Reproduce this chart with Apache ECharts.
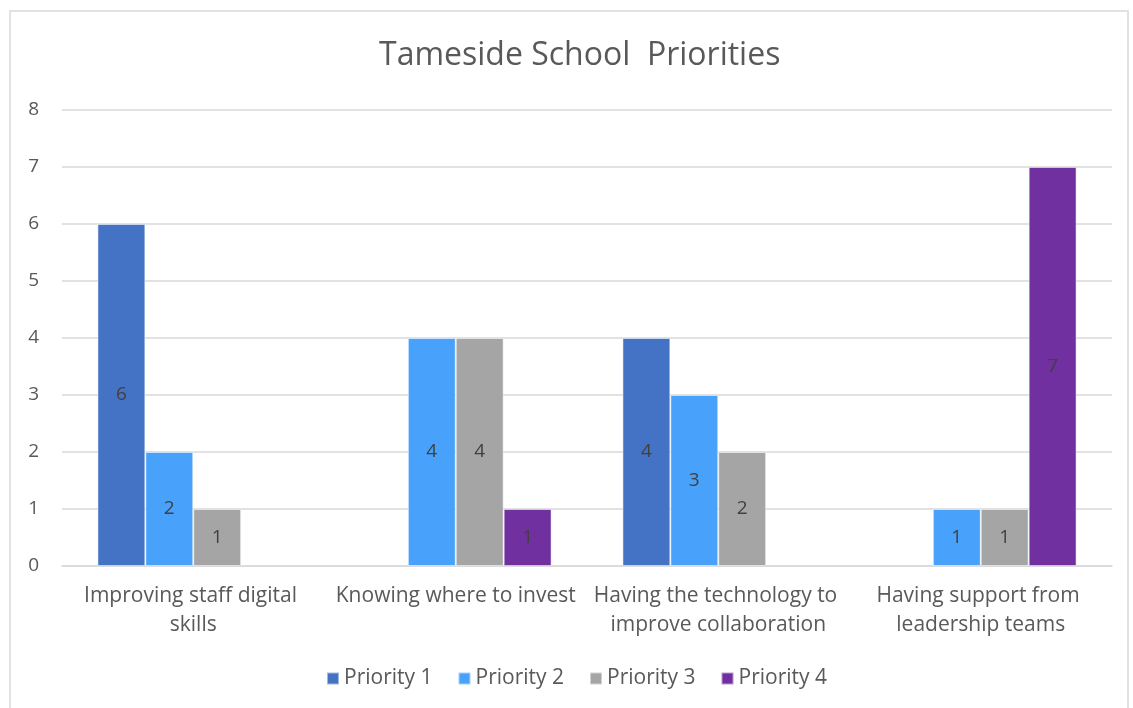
<!DOCTYPE html>
<html>
<head>
<meta charset="utf-8">
<script src="https://cdn.jsdelivr.net/npm/echarts@6/dist/echarts.min.js"></script>
<style>
  html, body { margin: 0; padding: 0; background: #fff; }
  #main { width: 1133px; height: 708px; }
</style>
</head>
<body>
<div id="main"></div>
<script>
  // data
  var categories = ['Improving staff digital skills', 'Knowing where to invest', 'Having the technology to improve collaboration', 'Having support from leadership teams'];
  var priority1 = [6, 0, 4, 0];
  var priority2 = [2, 4, 3, 1];
  var priority3 = [1, 4, 2, 1];
  var priority4 = [0, 1, 0, 7];
  var seriesNames = ['Priority 1', 'Priority 2', 'Priority 3', 'Priority 4'];
  var seriesColors = ['#4472C4', '#48A2FC', '#A5A5A5', '#7030A0'];
  var yTicks = [0, 8, 1]; // min, max, step

  var font = '"Open Sans", Lato, sans-serif';
  var allData = [priority1, priority2, priority3, priority4];

  var series = allData.map(function (d, i) {
    return {
      name: seriesNames[i],
      type: 'bar',
      // no outline on empty bars
      data: d.map(function (v) {
        return v === 0 ? { value: v, itemStyle: { borderWidth: 0 } } : v;
      }),
      barGap: '0%',
      barCategoryGap: '27%',
      itemStyle: { color: seriesColors[i], borderColor: 'rgba(255,255,255,0.5)', borderWidth: 1 },
      label: {
        show: true,
        position: 'inside',
        color: '#404040',
        fontSize: 19,
        fontFamily: font,
        formatter: function (p) { return p.value === 0 ? '' : p.value; }
      }
    };
  });

  var myChart = echarts.init(document.getElementById('main'));
  var option = {
    animation: false,
    title: {
      text: 'Tameside School  Priorities',
      left: 374,
      top: 35,
      textStyle: { color: '#595959', fontSize: 32, fontWeight: 'normal', fontFamily: font }
    },
    legend: {
      bottom: 14,
      left: 321,
      itemWidth: 12,
      itemHeight: 12,
      itemGap: 25,
      icon: 'rect',
      textStyle: { color: '#595959', fontSize: 21, fontFamily: font },
      data: seriesNames
    },
    grid: { left: 62, right: 21, top: 110, bottom: 142 },
    xAxis: {
      type: 'category',
      data: categories,
      axisTick: { show: false },
      axisLine: { show: true, lineStyle: { color: '#d9d9d9', width: 1.5 } },
      axisLabel: {
        color: '#595959',
        fontSize: 21,
        fontFamily: font,
        margin: 16,
        lineHeight: 29,
        width: 250,
        overflow: 'break',
        interval: 0
      }
    },
    yAxis: {
      type: 'value',
      min: yTicks[0],
      max: yTicks[1],
      interval: yTicks[2],
      axisLine: { show: false },
      axisTick: { show: false },
      axisLabel: { color: '#595959', fontSize: 19, fontFamily: font, margin: 23 },
      splitLine: { lineStyle: { color: '#d9d9d9', width: 1.5 } }
    },
    graphic: [{
      type: 'rect',
      shape: { x: 10, y: 11, width: 1118, height: 700 },
      style: { fill: null, stroke: '#d9d9d9', lineWidth: 1.5 },
      silent: true
    }],
    series: series
  };
  myChart.setOption(option, true);
</script>
</body>
</html>
